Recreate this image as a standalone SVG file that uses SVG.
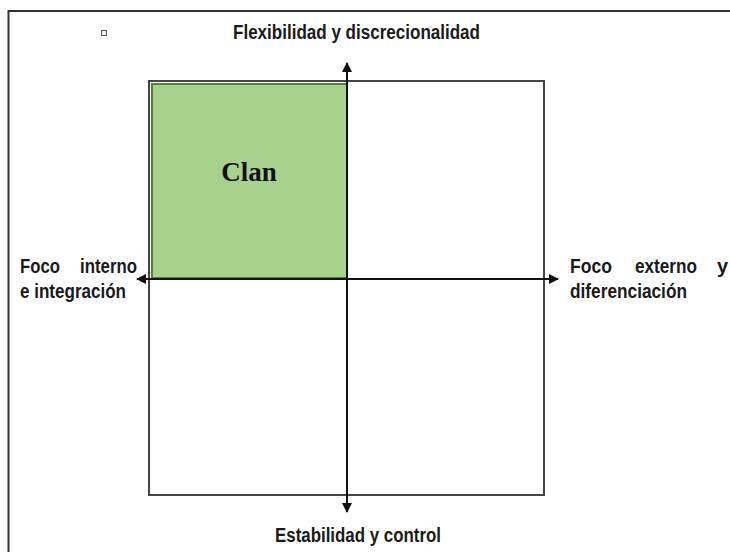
<svg xmlns="http://www.w3.org/2000/svg" width="730" height="552" viewBox="0 0 730 552">
  <style>
    .lbl { font-family: "Liberation Sans", Arial, sans-serif; font-size: 20px; font-weight: bold; fill: #1a1a1a; }
    .frame { stroke: #333; stroke-width: 2; fill: none; }
    .box { stroke: #444; stroke-width: 2; fill: none; }
    .axis { stroke: #111; stroke-width: 2; fill: none; }
  </style>
  <defs>
    <marker id="arrow" viewBox="0 0 10 10" refX="9" refY="5" markerWidth="5" markerHeight="5" orient="auto-start-reverse" markerUnits="strokeWidth">
      <path d="M0,0 L10,5 L0,10 z" fill="#111"/>
    </marker>
  </defs>

  <rect width="730" height="552" fill="#fff"/>

  <!-- page frame: top and left edges -->
  <path class="frame" d="M8.5,552 L8.5,11 L730,11"/>

  <!-- small bullet mark -->
  <rect x="101.5" y="30.5" width="5" height="5" fill="none" stroke="#555" stroke-width="1"/>

  <g id="quadrant-grid">
    <rect class="box" x="149" y="81" width="395" height="414"/>
  </g>

  <g id="clan">
    <rect x="152" y="84" width="195" height="194" fill="#a9d18e" stroke="#538135" stroke-width="2"/>
    <text x="249" y="181" text-anchor="middle" font-family="'Liberation Serif', 'Times New Roman', serif" font-size="27" font-weight="bold" fill="#111">Clan</text>
  </g>

  <g id="connectors">
    <line class="axis" x1="347" y1="512" x2="347" y2="63" marker-end="url(#arrow)" marker-start="url(#arrow)"/>
    <line class="axis" x1="137" y1="279" x2="558" y2="279" marker-end="url(#arrow)" marker-start="url(#arrow)"/>
  </g>

  <g id="label-top">
    <text class="lbl" x="233" y="39" textLength="247" lengthAdjust="spacingAndGlyphs">Flexibilidad y discrecionalidad</text>
  </g>
  <g id="label-bottom">
    <text class="lbl" x="275" y="542" textLength="166" lengthAdjust="spacingAndGlyphs">Estabilidad y control</text>
  </g>
  <g id="label-left">
    <text class="lbl" x="20" y="273" textLength="40" lengthAdjust="spacingAndGlyphs">Foco</text>
    <text class="lbl" x="80" y="273" textLength="57" lengthAdjust="spacingAndGlyphs">interno</text>
    <text class="lbl" x="20" y="298" textLength="106" lengthAdjust="spacingAndGlyphs">e integración</text>
  </g>
  <g id="label-right">
    <text class="lbl" x="570" y="273" textLength="42" lengthAdjust="spacingAndGlyphs">Foco</text>
    <text class="lbl" x="635" y="273" textLength="62" lengthAdjust="spacingAndGlyphs">externo</text>
    <text class="lbl" x="717" y="273">y</text>
    <text class="lbl" x="570" y="298" textLength="117" lengthAdjust="spacingAndGlyphs">diferenciación</text>
  </g>
</svg>
